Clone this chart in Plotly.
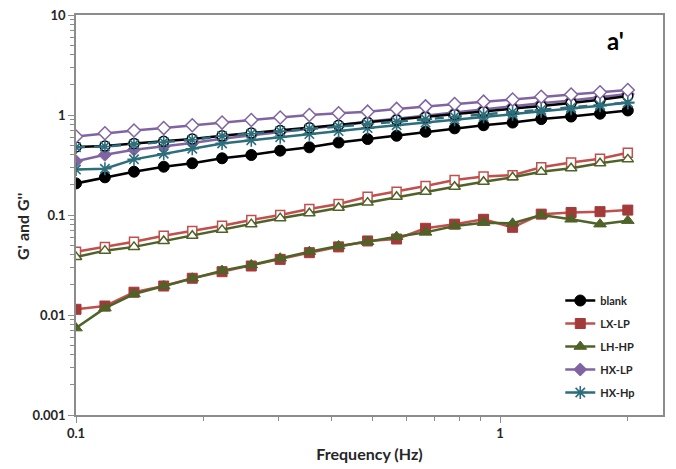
import plotly.graph_objects as go

# ---- data ----
freq = [0.1, 0.117, 0.137, 0.161, 0.188, 0.221, 0.259, 0.303, 0.355, 0.416,
        0.487, 0.570, 0.667, 0.781, 0.914, 1.07, 1.25, 1.47, 1.72, 2.0]

blank_g1 = [0.207, 0.238, 0.271, 0.304, 0.329, 0.369, 0.398, 0.44, 0.475, 0.53,
            0.575, 0.62, 0.68, 0.735, 0.79, 0.84, 0.91, 0.965, 1.03, 1.11]
blank_g2 = [0.48, 0.49, 0.52, 0.545, 0.575, 0.62, 0.66, 0.70, 0.745, 0.79,
            0.84, 0.89, 0.95, 1.01, 1.08, 1.15, 1.23, 1.32, 1.42, 1.55]

lxlp_g1 = [0.0114, 0.0123, 0.0169, 0.0195, 0.0233, 0.0271, 0.0309, 0.036, 0.042, 0.048,
           0.055, 0.0575, 0.0736, 0.081, 0.0906, 0.0753, 0.102, 0.106, 0.108, 0.112]
lxlp_g2 = [0.043, 0.048, 0.054, 0.062, 0.069, 0.078, 0.089, 0.10, 0.115, 0.129,
           0.152, 0.171, 0.195, 0.224, 0.243, 0.25, 0.30, 0.335, 0.365, 0.42]

lhhp_g1 = [0.0074, 0.0117, 0.0162, 0.0195, 0.0233, 0.0278, 0.0316, 0.037, 0.043, 0.049,
           0.054, 0.0607, 0.067, 0.0776, 0.0838, 0.0826, 0.10, 0.0906, 0.081, 0.0878]
lhhp_g2 = [0.038, 0.044, 0.048, 0.055, 0.062, 0.071, 0.081, 0.093, 0.104, 0.118,
           0.133, 0.152, 0.171, 0.192, 0.215, 0.238, 0.27, 0.293, 0.329, 0.36]

hxlp_g1 = [0.345, 0.40, 0.45, 0.485, 0.525, 0.58, 0.63, 0.68, 0.73, 0.79,
           0.86, 0.92, 0.99, 1.06, 1.14, 1.22, 1.31, 1.40, 1.50, 1.62]
hxlp_g2 = [0.61, 0.656, 0.70, 0.74, 0.79, 0.84, 0.89, 0.945, 1.0, 1.04,
           1.08, 1.15, 1.22, 1.29, 1.36, 1.43, 1.52, 1.60, 1.69, 1.78]

hxhp_g1 = [0.285, 0.29, 0.36, 0.41, 0.46, 0.52, 0.56, 0.60, 0.645, 0.69,
           0.74, 0.79, 0.84, 0.90, 0.96, 1.02, 1.09, 1.16, 1.24, 1.33]
hxhp_g2 = [0.475, 0.485, 0.51, 0.535, 0.565, 0.615, 0.65, 0.69, 0.73, 0.77,
           0.82, 0.86, 0.91, 0.96, 1.01, 1.07, 1.13, 1.19, 1.26, 1.33]

legend_names = ["blank", "LX-LP", "LH-HP", "HX-LP", "HX-Hp"]

x_major = [0.1, 1]
x_minor = [0.2, 0.3, 0.4, 0.5, 0.6, 0.7, 0.8, 0.9, 2]
y_major = [0.001, 0.01, 0.1, 1, 10]
y_minor = [m * d for d in [0.001, 0.01, 0.1, 1] for m in range(2, 10)]

# ---- styles ----
BLACK = "#000000"
RED_L = "#C0504D"
RED_M = "#A33A3A"
GRN = "#4F6228"
PUR = "#8064A2"
TEAL = "#2C6E7B"
LW = 2.5

fig = go.Figure()

def add(y, name, color, mcolor, symbol, open_=False, dash="solid", size=10, show=True):
    if symbol == "asterisk-open":
        marker = dict(symbol=symbol, size=size + 1, color=color,
                      line=dict(color=color, width=1.6))
    elif open_:
        marker = dict(symbol=symbol, size=size, color="white",
                      line=dict(color=mcolor, width=1.5))
    else:
        marker = dict(symbol=symbol, size=size, color=mcolor,
                      line=dict(color=mcolor, width=1))
    fig.add_trace(go.Scatter(
        x=freq, y=y, name=name, mode="lines+markers", legendgroup=name,
        line=dict(color=color, width=LW, dash=dash),
        marker=marker, showlegend=show))

add(lxlp_g2, "LX-LP G''", RED_L, RED_L, "square", open_=True, size=9, show=False)
add(lhhp_g2, "LH-HP G''", GRN, GRN, "triangle-up", open_=True, size=10, show=False)
add(blank_g1, legend_names[0], BLACK, BLACK, "circle", size=11)
add(lxlp_g1, legend_names[1], RED_L, RED_M, "square", size=10)
add(lhhp_g1, legend_names[2], GRN, GRN, "triangle-up", size=11)
add(hxlp_g1, legend_names[3], PUR, PUR, "diamond", size=10)
add(hxhp_g1, legend_names[4], TEAL, TEAL, "asterisk-open", size=10)
add(blank_g2, "blank G''", BLACK, BLACK, "circle", open_=True, size=10, show=False)
add(hxhp_g2, "HX-Hp G''", TEAL, TEAL, "asterisk-open", dash="dash", size=10, show=False)
add(hxlp_g2, "HX-LP G''", PUR, PUR, "diamond", open_=True, size=10, show=False)

FONT = "Lato"
TXT = "#262626"
AX = "#8C8C8C"

fig.update_layout(
    width=676, height=469,
    margin=dict(l=76, r=13, t=15, b=54),
    paper_bgcolor="white", plot_bgcolor="white",
    font=dict(family=FONT, color=TXT),
    showlegend=True,
    legend=dict(x=0.825, y=0.3225, xanchor="left", yanchor="top",
                bgcolor="rgba(0,0,0,0)", font=dict(size=11, family=FONT, color=TXT, weight="bold"),
                tracegroupgap=4, itemwidth=30),
    xaxis=dict(type="log", range=[-1, 0.384], automargin=False,
               tickmode="array", tickvals=x_major, ticktext=["0.1", "1"],
               ticks="outside", ticklen=6, tickcolor=AX,
               minor=dict(ticks="outside", ticklen=4, tickcolor=AX, tickmode="array", tickvals=x_minor, showgrid=False),
               showline=True, linecolor=AX, linewidth=1.5, mirror=True,
               showgrid=False, zeroline=False,
               tickfont=dict(size=13, family=FONT, color=TXT, weight="bold"),
               title=dict(text="Frequency (Hz)", font=dict(size=16, family=FONT, color=TXT, weight="bold"), standoff=8)),
    yaxis=dict(type="log", range=[-3, 1], automargin=False,
               tickmode="array", tickvals=y_major, ticktext=["0.001", "0.01", "0.1", "1", "10"],
               ticks="outside", ticklen=6, tickcolor=AX,
               minor=dict(ticks="outside", ticklen=4, tickcolor=AX, tickmode="array", tickvals=y_minor, showgrid=False),
               showline=True, linecolor=AX, linewidth=1.5, mirror=True,
               showgrid=False, zeroline=False,
               tickfont=dict(size=13, family=FONT, color=TXT, weight="bold")),
    annotations=[
        dict(text="G' and G''", textangle=-90, xref="paper", yref="paper",
             x=(22 - 76) / 587, y=1 - (227 - 15) / 400, xanchor="center", yanchor="middle",
             showarrow=False, font=dict(size=16, family=FONT, color=TXT, weight="bold")),
        dict(text="a'", xref="paper", yref="paper",
             x=(615 - 76) / 587, y=1 - (40 - 15) / 400, xanchor="center", yanchor="middle",
             showarrow=False, font=dict(size=24, family=FONT, color="#000000", weight="bold")),
    ],
)

fig.write_html("out.html", config={"displayModeBar": False},
               post_script="document.body.style.margin='0';")
